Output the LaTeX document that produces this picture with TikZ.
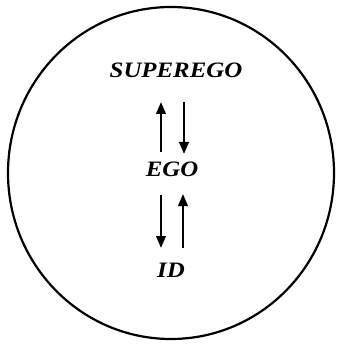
\documentclass[tikz,border=0pt]{standalone}
\usepackage{fontspec}
\setmainfont{Liberation Serif}
\usetikzlibrary{arrows.meta}
\newcommand{\widetxt}[1]{\scalebox{1.13}[1]{#1}}
\begin{document}
\begin{tikzpicture}[x=1pt,y=-1pt,
  lbl/.style={anchor=base,inner sep=0pt,font=\fontsize{22}{24}\selectfont\bfseries\itshape},
  arr/.style={line width=2.4pt,-{Triangle[length=12pt,width=9.5pt]}},
  ring/.style={line width=2.2pt}]
\useasboundingbox (0,0) rectangle (336,344);
\draw[ring] (171,173) ellipse [x radius=163, y radius=166];
\node[lbl] (sup) at (176,78) {\widetxt{SUPEREGO}};
\node[lbl] (ego) at (172,176) {\widetxt{EGO}};
\node[lbl] (id) at (171,277) {\widetxt{ID}};
\coordinate (a1s) at (161,152);
\coordinate (a1e) at (161,102);
\coordinate (a2s) at (184,102);
\coordinate (a2e) at (184,154);
\coordinate (a3s) at (161,195);
\coordinate (a3e) at (161,248);
\coordinate (a4s) at (183,248);
\coordinate (a4e) at (183,194);
\draw[arr] (a1s) -- (a1e);
\draw[arr] (a2s) -- (a2e);
\draw[arr] (a3s) -- (a3e);
\draw[arr] (a4s) -- (a4e);
\end{tikzpicture}
\end{document}
